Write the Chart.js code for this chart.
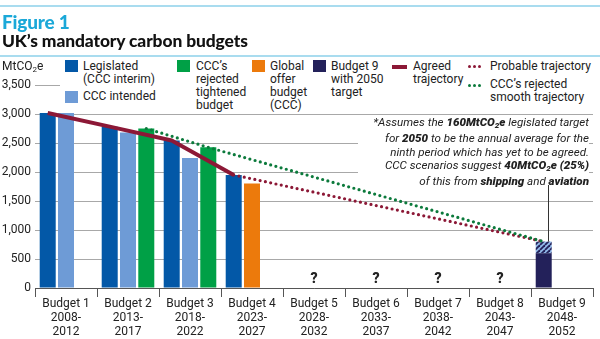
<!DOCTYPE html>
<html><head><meta charset="utf-8">
<script src="https://cdn.jsdelivr.net/npm/chart.js@4/dist/chart.umd.min.js"></script>
<style>
html,body{margin:0;padding:0;background:#fff;}
#wrap{position:relative;width:600px;height:339px;overflow:hidden;font-family:Roboto,"Noto Sans",sans-serif;color:#222;}
canvas{position:absolute;left:0;top:0;}
.abs{position:absolute;}
.rule{position:absolute;left:0;width:600px;height:2px;background:#a9dcef;}
#fig{left:2px;top:10px;font-size:19px;font-weight:900;color:#1ba8d8;font-family:Lato,Roboto,sans-serif;letter-spacing:-0.2px;}
#ttl{left:2px;top:30px;font-size:17.4px;font-weight:900;color:#111;font-family:Lato,Roboto,sans-serif;letter-spacing:-0.1px;}
#unit{left:2px;top:59px;font-size:12px;color:#222;}
#unit sub{font-size:8px;vertical-align:-2px;}
#legend{left:60px;top:58px;width:540px;height:54px;background:#fff;}
.it{position:absolute;font-size:12px;line-height:13px;color:#222;}
.sw{position:absolute;width:13px;height:12px;}
#note{left:358px;top:116px;width:231px;height:68px;background:#fff;font-style:italic;font-size:11.6px;line-height:13.3px;text-align:right;color:#222;}
#note b{font-weight:900;}
#note sub{font-size:8px;vertical-align:-2px;}
</style></head>
<body><div id="wrap">
<canvas id="c" width="600" height="339"></canvas>
<div class="rule" style="top:5px"></div>
<div class="rule" style="top:55px"></div>
<div id="fig" class="abs">Figure 1</div>
<div id="ttl" class="abs">UK’s mandatory carbon budgets</div>
<div id="unit" class="abs">MtCO<sub>2</sub>e</div>
<div id="legend" class="abs"></div>
<div id="note" class="abs">*Assumes the <b>160MtCO<sub>2</sub>e</b> legislated target<br>for <b>2050</b> to be the annual average for the<br>ninth period which has yet to be agreed.<br>CCC scenarios suggest <b>40MtCO<sub>2</sub>e (25%)</b><br>of this from <b>shipping</b> and <b>aviation</b></div>
</div>
<script>
// ---- data ----
const categories = ['Budget 1','Budget 2','Budget 3','Budget 4','Budget 5','Budget 6','Budget 7','Budget 8','Budget 9'];
const periods = ['2008-2012','2013-2017','2018-2022','2023-2027','2028-2032','2033-2037','2038-2042','2043-2047','2048-2052'];
const legislated = [3018, 2782, 2544, 1950, null, null, null, null, null];
const cccIntended = [3018, 2680, 2240, null, null, null, null, null, null];
const cccTightened = [null, 2750, 2425, null, null, null, null, null, null];
const globalOffer = [null, null, null, 1800, null, null, null, null, null];
const budget9Domestic = [null, null, null, null, null, null, null, null, 600];
const budget9ShippingAviation = [null, null, null, null, null, null, null, null, 200];
const unknownBudgets = [false, false, false, false, true, true, true, true, false];
const agreedTrajectory = [3018, 2782, 2544, 1950, null, null, null, null, null];
const probableTrajectory = [null, null, null, 1950, null, null, null, null, 800];
const smoothTrajectory = [null, 2750, 2425, null, null, null, null, null, 800];
const yTicks = [0, 500, 1000, 1500, 2000, 2500, 3000, 3500];

// ---- style ----
const C = {dark:'#0358a7', light:'#6e9bd6', green:'#00a046', orange:'#ec7a0c', navy:'#23215a', hatch:'#8fb6e6', maroon:'#8c1836', dotGreen:'#0c7a3c'};
const GROUP = 0.885, SLOTS = 3, BAR_FILL = 0.875;
// bars sit in three fixed slots per budget period (category index units)
const slotOffset = k => GROUP * ((k + 0.5) / SLOTS - 0.5);

function hatchPattern(){
  const p = document.createElement('canvas'); p.width = 5; p.height = 5;
  const g = p.getContext('2d');
  g.fillStyle = C.hatch; g.fillRect(0,0,5,5);
  g.strokeStyle = C.navy; g.lineWidth = 1.8;
  for (let o=-5;o<=10;o+=5){ g.beginPath(); g.moveTo(o,5); g.lineTo(o+5,0); g.stroke(); }
  return g.createPattern(p,'repeat');
}

const pts = (arr, slot) => arr.map((v,i)=> v==null ? null : {x:i+slotOffset(typeof slot==='function'?slot(i):slot), y:v}).filter(p=>p);
const slot1Values = legislated.map((v,i)=> v ?? budget9Domestic[i]);
const slot1Colors = legislated.map((v,i)=> v!=null ? C.dark : C.navy).filter((c,i)=>slot1Values[i]!=null);
const slot2Values = cccIntended.map((v,i)=> v ?? globalOffer[i]);
const slot2Colors = cccIntended.map((v,i)=> v!=null ? C.light : C.orange).filter((c,i)=>slot2Values[i]!=null);
const lastIdx = categories.length - 1;

const labels = categories.map((c,i)=>[c, periods[i].slice(0,5), periods[i].slice(5)]);

const extras = {
  id:'extras',
  afterDatasetsDraw(chart){
    const {ctx, scales, chartArea} = chart;
    const xl = scales.xl, y = scales.y;
    ctx.save();
    ctx.fillStyle = '#222';
    ctx.font = '900 14px Roboto, sans-serif';
    ctx.textAlign = 'center'; ctx.textBaseline = 'middle';
    unknownBudgets.forEach((u,i)=>{ if(u) ctx.fillText('?', xl.getPixelForValue(i), chartArea.bottom - 9); });
    const i9 = budget9Domestic.findIndex(v=>v!=null);
    const top = y.getPixelForValue(budget9Domestic[i9] + budget9ShippingAviation[i9]);
    const lx = Math.round(xl.getPixelForValue(i9 + slotOffset(0))) + 4.5;
    ctx.strokeStyle = '#333'; ctx.lineWidth = 1;
    ctx.beginPath(); ctx.moveTo(lx, 185); ctx.lineTo(lx, top); ctx.stroke();
    ctx.restore();
  }
};

const barBase = {xAxisID:'xl', yAxisID:'y', grouped:false, categoryPercentage:1, barPercentage:BAR_FILL, order:5};
const dotted = {borderWidth:3.2, borderDash:[0,5.4], borderCapStyle:'round', pointRadius:0, fill:false, tension:0};
const lineBase = {type:'line', xAxisID:'xl', yAxisID:'y', pointRadius:0};

new Chart(document.getElementById('c'), {
  type:'bar',
  data:{
    labels,
    datasets:[
      Object.assign({label:'Legislated (CCC interim) / Budget 9', data:pts(slot1Values,0), backgroundColor:slot1Colors, stack:'s1'}, barBase),
      Object.assign({label:'Shipping and aviation share', data:pts(budget9ShippingAviation,0), backgroundColor:hatchPattern(), stack:'s1'}, barBase),
      Object.assign({label:'CCC intended / Global offer budget', data:pts(slot2Values,1), backgroundColor:slot2Colors, stack:'s2'}, barBase),
      Object.assign({label:"CCC's rejected tightened budget", data:pts(cccTightened,2), backgroundColor:C.green, stack:'s3'}, barBase),
      Object.assign({label:'Agreed trajectory', data:pts(agreedTrajectory,0), borderColor:C.maroon, borderWidth:4, borderCapStyle:'butt', borderJoinStyle:'round', stack:'L1', order:0}, lineBase),
      Object.assign({label:'Probable trajectory', data:pts(probableTrajectory,0), borderColor:C.maroon, stack:'L2', order:1}, lineBase, dotted),
      Object.assign({label:"CCC's rejected smooth trajectory", data:pts(smoothTrajectory, i=> i===lastIdx?0:2), borderColor:C.dotGreen, stack:'L3', order:0.5}, lineBase, dotted)
    ]
  },
  options:{
    responsive:false, animation:false,
    layout:{padding:{left:0,right:7,top:85,bottom:0}},
    plugins:{legend:{display:false}, tooltip:{enabled:false}},
    scales:{
      x:{type:'category', offset:true,
        grid:{offset:true, drawOnChartArea:false, drawTicks:true, tickLength:9, color:'#555', lineWidth:1},
        border:{display:true, color:'#555', width:1},
        ticks:{color:'#222', font:{family:'Roboto', size:12, lineHeight:1.17}, padding:0, maxRotation:0, autoSkip:false},
        afterFit:s=>{s.height = 51;}
      },
      xl:{type:'linear', display:false, offset:false, min:-0.5, max:lastIdx+0.5},
      y:{stacked:true, min:0, max:3500,
        afterBuildTicks:s=>{s.ticks = yTicks.map(v=>({value:v}));},
        grid:{color:'#a8a8a8', lineWidth:1, drawTicks:false},
        border:{display:false},
        ticks:{color:'#222', font:{family:'Roboto', size:12}, padding:4, callback:v=>v.toLocaleString('en-US')},
        afterFit:s=>{s.width = 35;}
      }
    }
  },
  plugins:[extras]
});

// ---- legend (HTML) ----
const L = document.getElementById('legend');
const items = [
  {sw:C.dark, x:5, y:2, tx:23, ty:2, lines:['Legislated','(CCC interim)']},
  {sw:C.light, x:5, y:33, tx:23, ty:32, lines:['CCC intended']},
  {sw:C.green, x:117, y:2, tx:136, ty:2, lines:["CCC’s",'rejected','tightened','budget']},
  {sw:C.orange, x:192, y:2, tx:210, ty:2, lines:['Global','offer','budget','(CCC)']},
  {sw:C.navy, x:253, y:2, tx:271, ty:2, lines:['Budget 9','with 2050','target']},
  {line:'solid', x:332, y:8, tx:353, ty:2, lines:['Agreed','trajectory']},
  {line:C.maroon, x:408, y:8, tx:430, ty:2, lines:['Probable trajectory']},
  {line:C.dotGreen, x:408, y:27, tx:430, ty:20, lines:["CCC’s rejected",'smooth trajectory']}
];
items.forEach(it=>{
  if (it.sw){ const s=document.createElement('div'); s.className='sw'; s.style.left=it.x+'px'; s.style.top=it.y+'px'; s.style.background=it.sw; L.appendChild(s); }
  else if (it.line==='solid'){ const s=document.createElement('div'); s.className='abs'; Object.assign(s.style,{left:it.x+'px',top:it.y-1+'px',width:'15px',height:'3.5px',background:C.maroon}); L.appendChild(s); }
  else { for(let k=0;k<3;k++){ const d=document.createElement('div'); d.className='abs'; Object.assign(d.style,{left:(it.x+k*5)+'px',top:(it.y-1)+'px',width:'3px',height:'3px',borderRadius:'50%',background:it.line}); L.appendChild(d);} }
  const t=document.createElement('div'); t.className='it'; t.style.left=it.tx+'px'; t.style.top=it.ty+'px'; t.innerHTML=it.lines.join('<br>'); L.appendChild(t);
});
</script>
</body></html>
